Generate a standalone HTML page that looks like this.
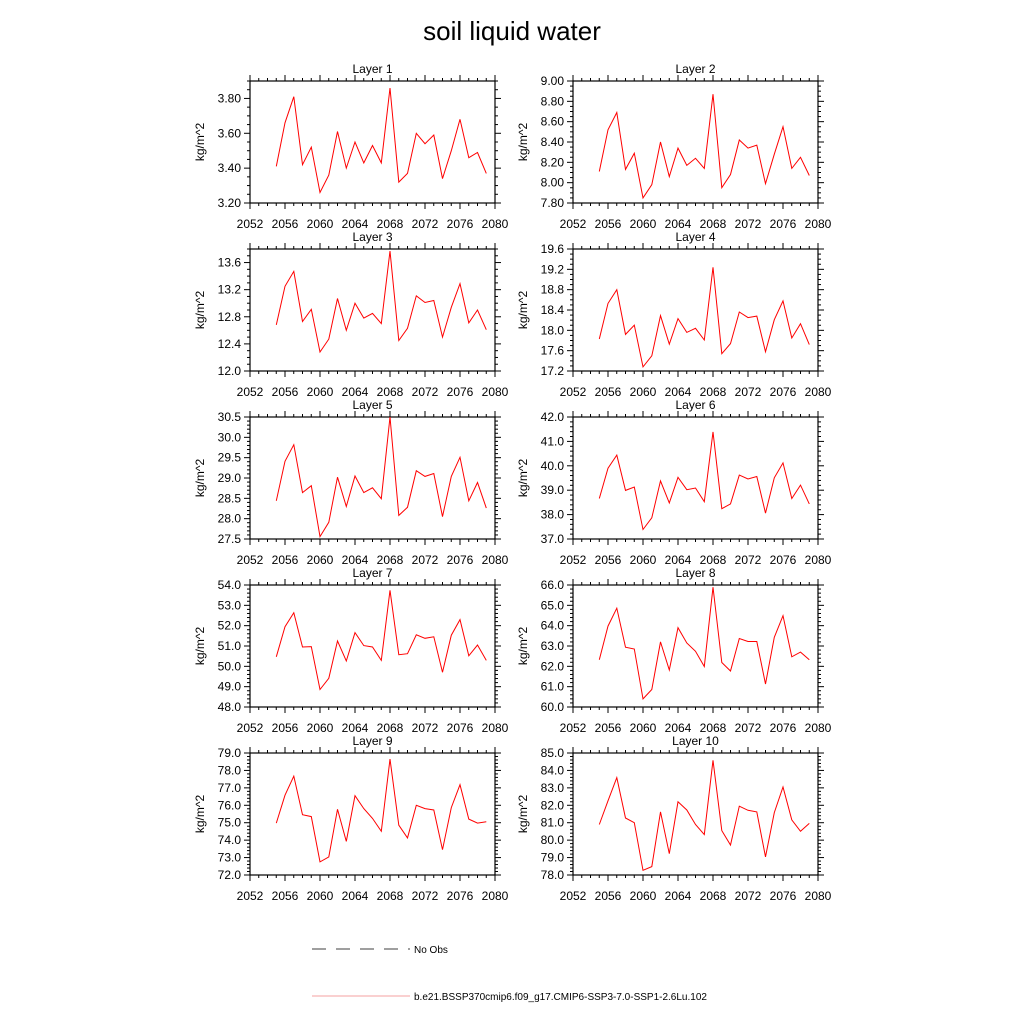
<!DOCTYPE html>
<html><head><meta charset="utf-8"><style>
html,body{margin:0;padding:0;background:#fff;}
svg{display:block;font-family:"Liberation Sans",Arial,sans-serif;}
</style></head><body>
<svg id="chart" width="1024" height="1024" viewBox="0 0 1024 1024" xmlns="http://www.w3.org/2000/svg">
<rect width="1024" height="1024" fill="#fff"/>
<text x="512" y="40" text-anchor="middle" font-size="26">soil liquid water</text>
<g>
<line x1="312" y1="949" x2="410" y2="949" stroke="#000" stroke-width="0.8" stroke-dasharray="14,10"/>
<text x="414" y="953" font-size="10">No Obs</text>
<line x1="312" y1="996" x2="410" y2="996" stroke="#f08080" stroke-width="0.8"/>
<text x="414" y="1000" font-size="10">b.e21.BSSP370cmip6.f09_g17.CMIP6-SSP3-7.0-SSP1-2.6Lu.102</text>
</g>
</svg>
<script>
const years = [2055,2056,2057,2058,2059,2060,2061,2062,2063,2064,2065,2066,2067,2068,2069,2070,2071,2072,2073,2074,2075,2076,2077,2078,2079];
const xTickLabels = [2052,2056,2060,2064,2068,2072,2076,2080];
const layerNames = ["Layer 1","Layer 2","Layer 3","Layer 4","Layer 5","Layer 6","Layer 7","Layer 8","Layer 9","Layer 10"];
const layer1 = [3.41,3.66,3.81,3.42,3.52,3.26,3.36,3.61,3.40,3.55,3.43,3.53,3.43,3.86,3.32,3.37,3.60,3.54,3.59,3.34,3.50,3.68,3.46,3.49,3.37];
const layer2 = [8.11,8.52,8.69,8.13,8.29,7.85,7.98,8.40,8.06,8.34,8.17,8.24,8.14,8.87,7.95,8.08,8.42,8.34,8.37,7.99,8.28,8.55,8.14,8.25,8.07];
const layer3 = [12.68,13.25,13.47,12.73,12.91,12.28,12.47,13.07,12.60,13.00,12.78,12.85,12.70,13.77,12.45,12.63,13.11,13.01,13.04,12.50,12.94,13.29,12.71,12.90,12.61];
const layer4 = [17.83,18.53,18.80,17.92,18.10,17.28,17.50,18.29,17.73,18.23,17.96,18.04,17.81,19.24,17.54,17.74,18.36,18.25,18.28,17.58,18.21,18.58,17.85,18.13,17.72];
const layer5 = [28.44,29.41,29.82,28.64,28.81,27.56,27.91,29.02,28.30,29.05,28.64,28.76,28.49,30.50,28.08,28.28,29.18,29.04,29.11,28.05,29.04,29.51,28.44,28.89,28.26];
const layer6 = [38.66,39.90,40.44,38.99,39.13,37.39,37.87,39.38,38.48,39.53,39.02,39.09,38.53,41.39,38.24,38.44,39.62,39.46,39.56,38.06,39.51,40.12,38.66,39.21,38.44];
const layer7 = [50.47,51.95,52.64,50.95,50.97,48.86,49.41,51.25,50.26,51.66,51.02,50.95,50.29,53.74,50.57,50.62,51.55,51.38,51.45,49.71,51.53,52.30,50.52,51.05,50.29];
const layer8 = [62.32,63.98,64.86,62.94,62.85,60.40,60.86,63.20,61.82,63.90,63.15,62.74,61.99,65.89,62.19,61.77,63.37,63.22,63.22,61.13,63.43,64.49,62.47,62.70,62.32];
const layer9 = [74.98,76.58,77.67,75.46,75.35,72.75,73.04,75.77,73.93,76.55,75.81,75.25,74.51,78.65,74.86,74.13,76.00,75.81,75.73,73.45,75.87,77.18,75.21,74.98,75.06];
const layer10 = [80.90,82.26,83.59,81.27,81.00,78.27,78.48,81.62,79.22,82.20,81.73,80.90,80.32,84.58,80.55,79.72,81.95,81.71,81.62,79.04,81.58,83.05,81.16,80.51,80.96];
const yMin = [3.2,7.8,12.0,17.2,27.5,37.0,48.0,60.0,72.0,78.0];
const yMax = [3.9,9.0,13.8,19.6,30.5,42.0,54.0,66.0,79.0,85.0];
const yMajor = [0.2,0.2,0.4,0.4,0.5,1.0,1.0,1.0,1.0,1.0];
const yMinor = [0.05,0.05,0.1,0.1,0.1,0.2,0.2,0.2,0.2,0.2];
const yDecimals = [2,2,1,1,1,1,1,1,1,1];
const series = [layer1,layer2,layer3,layer4,layer5,layer6,layer7,layer8,layer9,layer10];

const NS = "http://www.w3.org/2000/svg";
const svg = document.getElementById('chart');
function mk(tag, attrs, parent){ const e=document.createElementNS(NS,tag); for(const k in attrs) e.setAttribute(k,attrs[k]); parent.appendChild(e); return e; }

const W = 245, H = 122, colX = [250,573], rowY = [81,249,417,585,753];
const xMin = 2052, xMax = 2080;

series.forEach((vals, i) => {
  const L = colX[i%2], T = rowY[Math.floor(i/2)];
  const xs = v => L + (v - xMin)/(xMax - xMin)*W;
  const ys = v => T + H - (v - yMin[i])/(yMax[i] - yMin[i])*H;
  const g = mk('g', {}, svg);
  
  
  const t = mk('text', {x: L+W/2, y: T-8, 'text-anchor':'middle', 'font-size':12}, g);
  
  
  t.textContent = layerNames[i];
  for (let yr = xMin; yr <= xMax; yr++) {
    const x = xs(yr), len = (yr % 4 === 0) ? 6 : 3;
    const tb = mk('line', {x1:x, y1:T+H, x2:x, y2:T+H+len, stroke:'#000', 'stroke-width':1}, g);
    
    
    const tt = mk('line', {x1:x, y1:T, x2:x, y2:T-len, stroke:'#000', 'stroke-width':1}, g);
    
    
  }
  xTickLabels.forEach(lbl => {
    const tl = mk('text', {x: xs(lbl), y: T+H+25, 'text-anchor':'middle', 'font-size':12}, g);
    
    
    tl.textContent = lbl;
  });
  const nMin = Math.round((yMax[i]-yMin[i])/yMinor[i]);
  const ratio = Math.round(yMajor[i]/yMinor[i]);
  for (let k = 0; k <= nMin; k++) {
    const v = yMin[i] + k*yMinor[i], y = ys(v), major = k % ratio === 0, len = major ? 6 : 3;
    const tl = mk('line', {x1:L, y1:y, x2:L-len, y2:y, stroke:'#000', 'stroke-width':1}, g);
    
    
    const tr = mk('line', {x1:L+W, y1:y, x2:L+W+len, y2:y, stroke:'#000', 'stroke-width':1}, g);
    
    
    if (major) {
      const lab = mk('text', {x: L-9, y: y+4, 'text-anchor':'end', 'font-size':12}, g);
      
      
      lab.textContent = v.toFixed(yDecimals[i]);
    }
  }
  const yt = mk('text', {x: 0, y: 0, 'text-anchor':'middle', 'font-size':12, transform:`translate(${L-46},${T+H/2}) rotate(-90)`}, g);
  
  
  yt.textContent = 'kg/m^2';
  const box = mk('rect', {x:L, y:T, width:W, height:H, fill:'none', stroke:'#000', 'stroke-width':1.2}, g);
  
  
  const pts = vals.map((v, j) => xs(years[j]).toFixed(1) + ',' + ys(v).toFixed(1)).join(' ');
  const pl = mk('polyline', {points: pts, fill:'none', stroke:'#ff0000', 'stroke-width':1}, g);
  
  
});
</script>
</body></html>
